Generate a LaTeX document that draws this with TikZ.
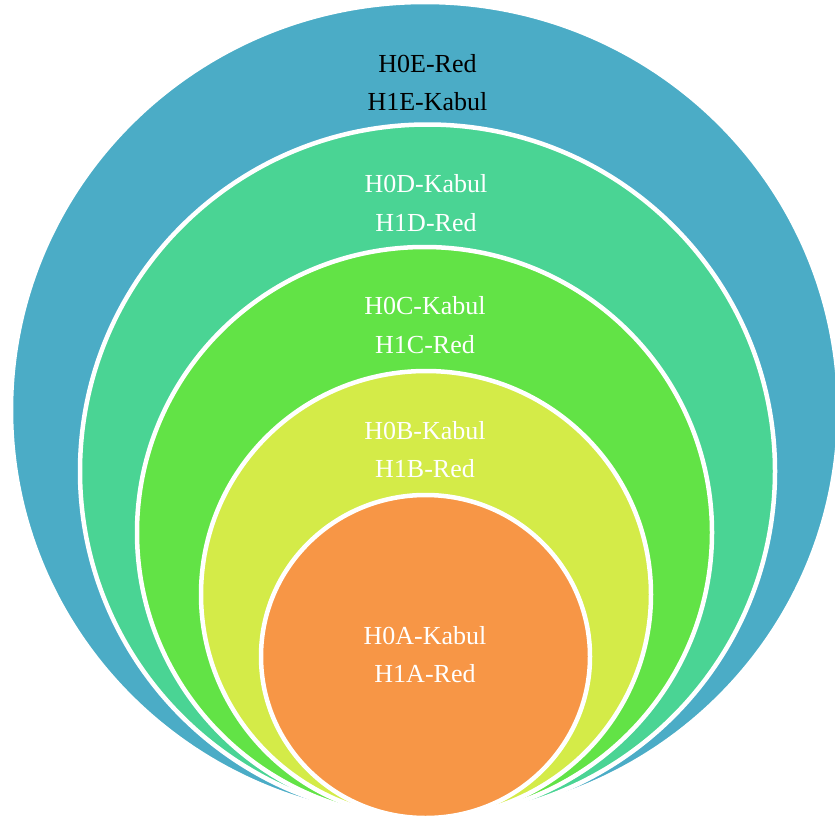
\documentclass[tikz,border=0pt]{standalone}
\usepackage{fontspec}
\setmainfont{Liberation Serif}
\definecolor{ringE}{RGB}{75,172,198}
\definecolor{ringD}{RGB}{74,212,148}
\definecolor{ringC}{RGB}{98,227,70}
\definecolor{ringB}{RGB}{212,235,72}
\definecolor{ringA}{RGB}{247,150,70}
\tikzset{
  ring/.style={fill=#1, draw=white, line width=4.5pt},
  lbl/.style={anchor=base, inner sep=0pt, font=\fontsize{26}{30}\selectfont, text=#1},
}
\begin{document}
\begin{tikzpicture}[x=1pt,y=-1pt]
  \useasboundingbox (0,0) rectangle (835,819);
  \clip (0,0) rectangle (835,819);
  % nested rings, all touching near the bottom
  \path[ring=ringE] (425,410)   ellipse [x radius=414,   y radius=408];
  \path[ring=ringD] (427.5,471.25) ellipse [x radius=347.5, y radius=346.75];
  \path[ring=ringC] (424.5,532.5) ellipse [x radius=287.5, y radius=285.5];
  \path[ring=ringB] (426,594.5) ellipse [x radius=225,   y radius=223.5];
  \path[ring=ringA] (425.5,656.5) ellipse [x radius=164.5, y radius=161.5];
  % labels
  \node[lbl=black] (e0) at (427.5,72.7) {H0E-Red};
  \node[lbl=black] (e1) at (427.5,110.5) {H1E-Kabul};
  \node[lbl=white] (d0) at (426,192.6) {H0D-Kabul};
  \node[lbl=white] (d1) at (426,231.6) {H1D-Red};
  \node[lbl=white] (c0) at (425,314.6) {H0C-Kabul};
  \node[lbl=white] (c1) at (425,353.6) {H1C-Red};
  \node[lbl=white] (b0) at (425,439.6) {H0B-Kabul};
  \node[lbl=white] (b1) at (425,477.6) {H1B-Red};
  \node[lbl=white] (a0) at (425,644) {H0A-Kabul};
  \node[lbl=white] (a1) at (425,682) {H1A-Red};
\end{tikzpicture}
\end{document}
